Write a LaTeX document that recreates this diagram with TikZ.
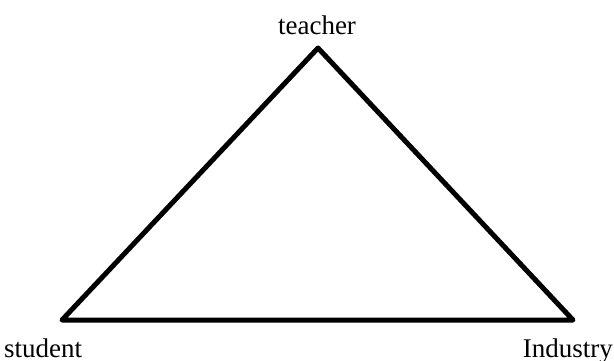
\documentclass[tikz,border=0pt]{standalone}
\usepackage{fontspec}
\setmainfont{Liberation Serif}
\usetikzlibrary{positioning}

\begin{document}
\begin{tikzpicture}[x=1pt,y=-1pt,
      lbl/.style={font=\fontsize{27}{30}\selectfont,inner sep=0pt},
      side/.style={line width=5pt,line join=round}]
    \useasboundingbox (0,0) rectangle (614,361);
    \coordinate (top) at (318,48);
    \coordinate (left) at (62,320);
    \coordinate (right) at (573,320);
    \node[lbl,anchor=base] (teacher) at (317,35) {teacher};
    \node[lbl,anchor=base west] (student) at (4,357) {student};
    \node[lbl,anchor=base east] (industry) at (613,357) {Industry};
    \draw[side] (top)--(right)--(left)--cycle;
  \end{tikzpicture}
\end{document}
